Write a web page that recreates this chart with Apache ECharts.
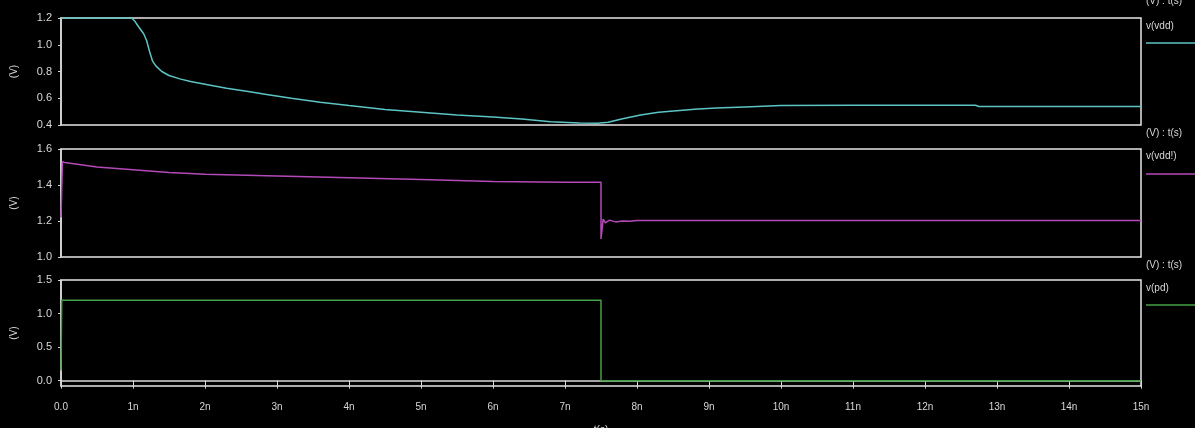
<!DOCTYPE html>
<html>
<head>
<meta charset="utf-8">
<script src="https://cdn.jsdelivr.net/npm/echarts@6/dist/echarts.min.js"></script>
<style>
  html, body { margin: 0; padding: 0; background: #000; }
  #chart { width: 1195px; height: 428px; }
</style>
</head>
<body>
<div id="chart"></div>
<script>
// Transient waveforms, time in ns
const vddTime = [0, 0.98, 1.02, 1.07, 1.11, 1.15, 1.19, 1.23, 1.27, 1.32, 1.40, 1.50, 1.65, 1.80, 2.0, 2.3, 2.6, 2.9, 3.2, 3.6, 4.0, 4.5, 5.0, 5.5, 6.0, 6.4, 6.8, 7.2, 7.45, 7.6, 7.8, 8.05, 8.3, 8.55, 8.8, 9.1, 9.5, 10.0, 11.0, 12.0, 12.7, 12.75, 15];
const vddVolt = [1.2, 1.2, 1.18, 1.14, 1.11, 1.08, 1.03, 0.95, 0.88, 0.84, 0.80, 0.77, 0.745, 0.725, 0.705, 0.675, 0.65, 0.625, 0.60, 0.57, 0.545, 0.515, 0.495, 0.475, 0.46, 0.445, 0.425, 0.415, 0.413, 0.42, 0.447, 0.475, 0.495, 0.507, 0.517, 0.527, 0.535, 0.545, 0.548, 0.548, 0.548, 0.538, 0.538];

const vddBangTime = [0, 0.02, 0.05, 0.5, 1.0, 1.5, 2.0, 3.0, 4.0, 5.0, 6.0, 7.0, 7.5, 7.5, 7.53, 7.56, 7.62, 7.7, 7.8, 7.9, 8.0, 15];
const vddBangVolt = [1.22, 1.53, 1.525, 1.50, 1.485, 1.47, 1.46, 1.45, 1.44, 1.43, 1.42, 1.415, 1.415, 1.10, 1.21, 1.19, 1.205, 1.195, 1.20, 1.198, 1.203, 1.203];

const pdTime = [0, 0.01, 7.5, 7.5, 15];
const pdVolt = [0.15, 1.2, 1.2, 0.0, 0.0];

const timeTicks = [0, 1, 2, 3, 4, 5, 6, 7, 8, 9, 10, 11, 12, 13, 14, 15];
const pdTicks = [0, 0.5, 1.0, 1.5];

const pairs = (t, v) => t.map((x, i) => [x, v[i]]);

const FG = '#d8d8d8';
const FONT = 'Liberation Sans, Arial, sans-serif';
const panels = [
  { top: 18, height: 107 },
  { top: 149, height: 108 },
  { top: 280, height: 106 }
];

const chart = echarts.init(document.getElementById('chart'), null, { renderer: 'canvas' });

function yAxisFor(idx, min, max, extra) {
  return Object.assign({
    type: 'value', gridIndex: idx, min: min, max: max,
    offset: 3,
    name: '(V)', nameLocation: 'middle', nameRotate: 90, nameGap: 39,
    nameTextStyle: { color: FG, fontSize: 10, fontFamily: FONT },
    axisLine: { show: true, lineStyle: { color: FG, width: 1.5 } },
    axisTick: { show: true, length: 3, lineStyle: { color: FG } },
    axisLabel: { color: FG, fontSize: 11, fontFamily: FONT, margin: 6,
      formatter: v => v.toFixed(1) },
    splitLine: { show: false }
  }, extra || {});
}

const option = {
  backgroundColor: '#000',
  animation: false,
  grid: panels.map(p => ({
    left: 61, right: 54, top: p.top, height: p.height,
    outerBoundsMode: 'none', containLabel: false,
    show: true, borderColor: '#e6e6e6', borderWidth: 1.5, backgroundColor: 'transparent'
  })),
  xAxis: [
    { type: 'value', gridIndex: 0, min: 0, max: 15, show: false },
    { type: 'value', gridIndex: 1, min: 0, max: 15, show: false },
    {
      type: 'value', gridIndex: 2, min: 0, max: 15, interval: 1, offset: 3,
      name: 't(s)', nameLocation: 'middle', nameGap: 36,
      nameTextStyle: { color: FG, fontSize: 10, fontFamily: FONT },
      axisLine: { show: true, lineStyle: { color: FG, width: 1.5 } },
      axisTick: { show: true, length: 8, lineStyle: { color: FG } },
      axisLabel: { color: FG, fontSize: 10, fontFamily: FONT, margin: 13,
        customValues: timeTicks,
        formatter: v => (v === 0 ? '0.0' : v + 'n') },
      splitLine: { show: false }
    }
  ],
  yAxis: [
    yAxisFor(0, 0.4, 1.2, { interval: 0.2 }),
    yAxisFor(1, 1.0, 1.6, { interval: 0.2 }),
    yAxisFor(2, -0.08, 1.5, {
      axisTick: { show: true, length: 3, lineStyle: { color: FG }, customValues: pdTicks },
      axisLabel: { color: FG, fontSize: 11, fontFamily: FONT, margin: 6,
        customValues: pdTicks, formatter: v => v.toFixed(1) }
    })
  ],
  series: [
    { name: 'v(vdd)', type: 'line', xAxisIndex: 0, yAxisIndex: 0, showSymbol: false,
      data: pairs(vddTime, vddVolt), lineStyle: { color: '#5cc4c4', width: 1.5 } },
    { name: 'v(vdd!)', type: 'line', xAxisIndex: 1, yAxisIndex: 1, showSymbol: false,
      data: pairs(vddBangTime, vddBangVolt), lineStyle: { color: '#b44ab8', width: 1.5 } },
    { name: 'v(pd)', type: 'line', xAxisIndex: 2, yAxisIndex: 2, showSymbol: false,
      data: pairs(pdTime, pdVolt), lineStyle: { color: '#44a044', width: 1.5 } }
  ],
  graphic: [
    { type: 'text', left: 1146, top: -4, style: { text: '(V) : t(s)', fill: FG, font: '10px ' + FONT } },
    { type: 'text', left: 1146, top: 21, style: { text: 'v(vdd)', fill: FG, font: '10px ' + FONT } },
    { type: 'line', shape: { x1: 1146, y1: 43, x2: 1195, y2: 43 }, style: { stroke: '#5cc4c4', lineWidth: 1.5 } },
    { type: 'text', left: 1146, top: 128, style: { text: '(V) : t(s)', fill: FG, font: '10px ' + FONT } },
    { type: 'text', left: 1146, top: 151, style: { text: 'v(vdd!)', fill: FG, font: '10px ' + FONT } },
    { type: 'line', shape: { x1: 1146, y1: 174, x2: 1195, y2: 174 }, style: { stroke: '#b44ab8', lineWidth: 1.5 } },
    { type: 'text', left: 1146, top: 260, style: { text: '(V) : t(s)', fill: FG, font: '10px ' + FONT } },
    { type: 'text', left: 1146, top: 283, style: { text: 'v(pd)', fill: FG, font: '10px ' + FONT } },
    { type: 'line', shape: { x1: 1146, y1: 305, x2: 1195, y2: 305 }, style: { stroke: '#44a044', lineWidth: 1.5 } }
  ]
};

chart.setOption(option);
</script>
</body>
</html>
